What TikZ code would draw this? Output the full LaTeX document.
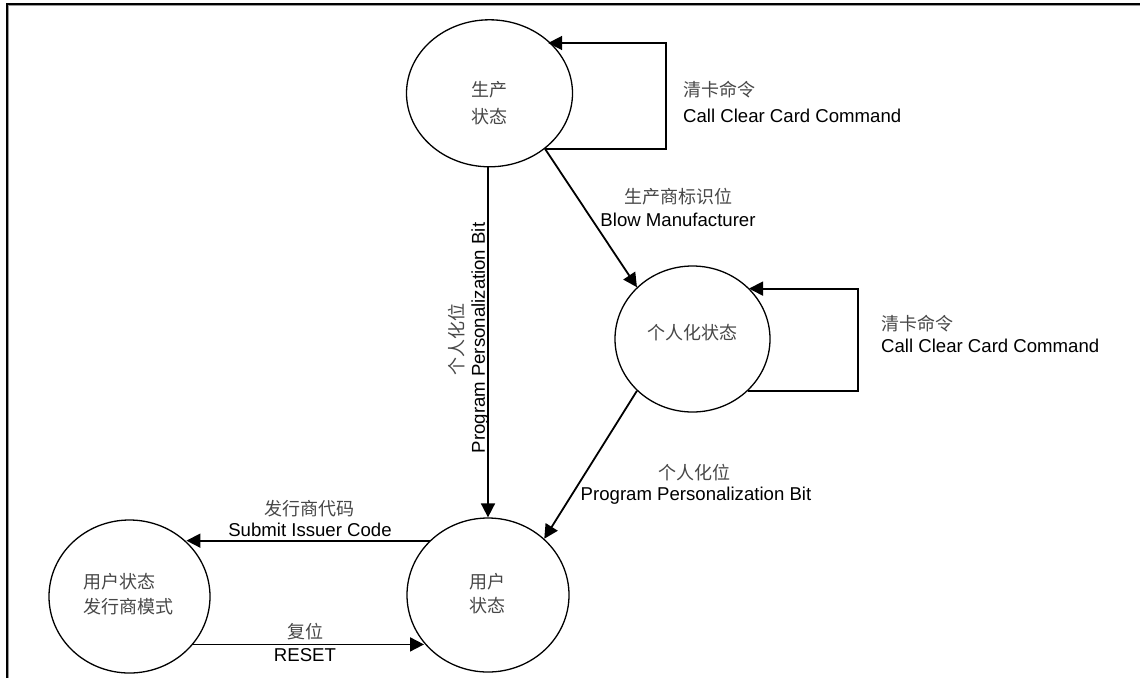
\documentclass[tikz,border=0pt]{standalone}
\usepackage{fontspec}
\setmainfont{Liberation Sans}
\newfontfamily\cjk{Noto Sans CJK SC}
\usetikzlibrary{arrows.meta,shapes.geometric}
\begin{document}
\begin{tikzpicture}[x=1pt,y=-1pt,
  state/.style={ellipse, draw, line width=1.3pt, inner sep=0pt},
  conn/.style={line width=1.8pt, -{Triangle[length=14pt,width=14pt]}},
  zh/.style={font=\cjk\fontsize{18}{22}\selectfont, text=black!72, inner sep=0pt},
  en/.style={font=\fontsize{18.6}{22}\selectfont, inner sep=0pt}
]
\useasboundingbox (0,0) rectangle (1140,678);
% frame (top and left edges)
\draw[black!40, line width=1pt] (8.5,678) -- (8.5,5.8) -- (1140,5.8);
\draw[line width=2pt] (7,678) -- (7,4.3) -- (1140,4.3);

% states
\node[state, minimum width=166pt, minimum height=147pt] (e1) at (489.5,93.3) {};
\node[state, minimum width=155pt, minimum height=146pt] (e2) at (692.5,339) {};
\node[state, minimum width=162pt, minimum height=154pt] (e3) at (488,595) {};
\node[state, minimum width=161pt, minimum height=153pt] (e4) at (129.5,596.5) {};

% state texts
\node[zh] (t1a) at (489.5,89.5) {生产};
\node[zh] (t1b) at (489.5,117) {状态};
\node[zh] (t2) at (692,333) {个人化状态};
\node[zh] (t3a) at (487,582) {用户};
\node[zh] (t3b) at (487,606) {状态};
\node[zh, anchor=west] (t4a) at (83,582) {用户状态};
\node[zh, anchor=west] (t4b) at (83,607) {发行商模式};

% self loops
\coordinate (l1) at (666,43);
\coordinate (l2) at (858,288.6);
\draw[conn] (e1.-45) -| (l1) -- (l1 -| e1.42);
\draw[conn] (e2.-43) -| (l2) -- (l2 -| e2.42);

% transitions
\draw[conn] (e1.-45) -- (e2.137);
\draw[conn] (e3.north |- e1.south) -- (e3.north);
\draw[conn] (e2.-137) -- (e3.45);
\draw[conn] (e3.137) -- (e3.137 -| e4.44);
\draw[conn] (e4.-37) -- (e4.-37 -| e3.-143);

% labels
\node[zh, anchor=west] (c1a) at (683,89.5) {清卡命令};
\node[en, anchor=west] (c1b) at (683,116) {Call Clear Card Command};
\node[zh, anchor=west] (c2a) at (881,323.5) {清卡命令};
\node[en, anchor=west] (c2b) at (881,345.5) {Call Clear Card Command};
\node[zh] (b1) at (678,197) {生产商标识位};
\node[en] (b2) at (678,220) {Blow Manufacturer};
\node[zh, rotate=90] (v1) at (456.5,339) {个人化位};
\node[en, rotate=90] (v2) at (480,338) {Program Personalization Bit};
\node[zh] (p1) at (694,473) {个人化位};
\node[en] (p2) at (696,496) {Program Personalization Bit};
\node[zh] (s1) at (309,509) {发行商代码};
\node[en] (s2) at (310,530) {Submit Issuer Code};
\node[zh] (r1) at (305,632) {复位};
\node[en] (r2) at (305,655) {RESET};
\end{tikzpicture}
\end{document}
